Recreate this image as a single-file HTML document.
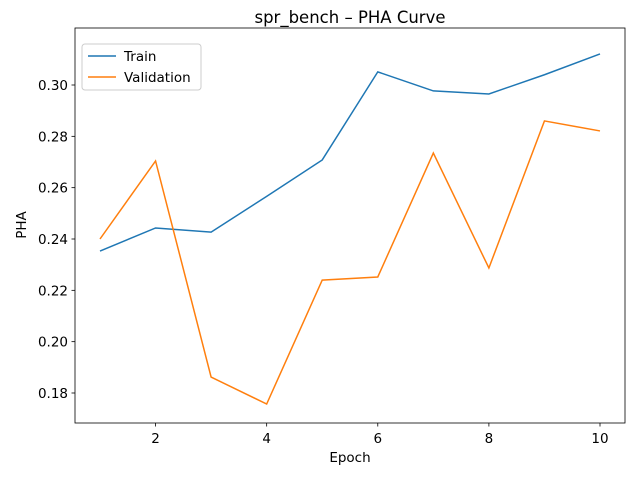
<!DOCTYPE html>
<html><head><meta charset="utf-8"><style>body{margin:0;background:#fff}svg{font-family:"DejaVu Sans","Liberation Sans",sans-serif}</style></head>
<body>
<svg id="chart" width="640" height="480">
<rect width="640" height="480" fill="#fff"/>
<text x="350" y="29" text-anchor="middle" font-size="16.5" dy="-6">spr_bench – PHA Curve</text>
<g id="plot"></g>
<rect x="75" y="28" width="550" height="395" fill="none" stroke="#000" stroke-width="0.8"/>
<text x="350" y="462" text-anchor="middle" font-size="13.5">Epoch</text>
<text x="26" y="225" text-anchor="middle" font-size="13.5" transform="rotate(-90 26 225)">PHA</text>
<g>
<rect x="82" y="44" width="119" height="46" rx="3" fill="#fff" stroke="#ccc" stroke-width="1"/>
<line x1="88" y1="56" x2="116" y2="56" stroke="#1f77b4" stroke-width="1.5"/>
<text x="124" y="61" font-size="13.5">Train</text>
<line x1="88" y1="77" x2="116" y2="77" stroke="#ff7f0e" stroke-width="1.5"/>
<text x="124" y="82" font-size="13.5">Validation</text>
</g>
</svg>
<script>
const epochs=[1,2,3,4,5,6,7,8,9,10];
const trainPHA=[0.2353,0.2443,0.2427,0.2566,0.2708,0.3051,0.2977,0.2965,0.3040,0.3121];
const valPHA=[0.2400,0.2704,0.1862,0.1757,0.2240,0.2252,0.2735,0.2287,0.2860,0.2821];
const xTicks=[2,4,6,8,10];
const yTicks=[0.18,0.20,0.22,0.24,0.26,0.28,0.30];
const NS="http://www.w3.org/2000/svg";
const X=v=>100+(v-1)*(500/9);
const Y=v=>85+(0.30-v)/0.02*51.333;
const g=document.getElementById('plot');
function mk(t,a){const e=document.createElementNS(NS,t);for(const k in a)e.setAttribute(k,a[k]);g.appendChild(e);return e;}
xTicks.forEach(t=>{
 const l=mk('line',{x1:X(t),x2:X(t),y1:423,y2:426.5,stroke:'#000','stroke-width':0.8});
 
 
 const s=mk('text',{x:X(t),y:443,'text-anchor':'middle','font-size':13.5});
 
 
 s.textContent=t;
});
yTicks.forEach(t=>{
 const l=mk('line',{x1:71.5,x2:75,y1:Y(t),y2:Y(t),stroke:'#000','stroke-width':0.8});
 
 
 const s=mk('text',{x:68,y:Y(t)+5,'text-anchor':'end','font-size':13.5});
 
 
 s.textContent=t.toFixed(2);
});
function line(d,c,n){
 const p=mk('polyline',{points:d.map((v,i)=>X(epochs[i])+','+Y(v)).join(' '),fill:'none',stroke:c,'stroke-width':1.5});
 
 
}
line(trainPHA,'#1f77b4','train-line');
line(valPHA,'#ff7f0e','validation-line');
</script>
</body></html>
